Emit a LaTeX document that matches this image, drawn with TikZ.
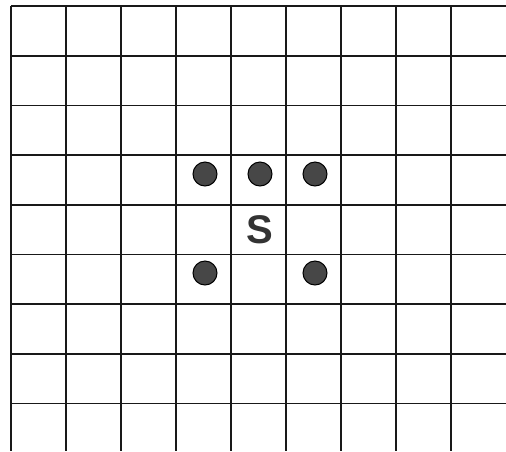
\documentclass[tikz,border=0pt]{standalone}
\usepackage{fontspec}
\setmainfont{Liberation Sans}
\begin{document}
\begin{tikzpicture}[x=1pt,y=-1pt,
  gridline/.style={line width=1.6pt,black!90},
  dot/.style={circle,draw=black,line width=1pt,fill=black!72,minimum size=24pt,inner sep=0pt},
  slabel/.style={font=\bfseries,text=black!80,inner sep=0pt,scale=4}]
\useasboundingbox (0,0) rectangle (506,451);
\foreach \i in {0,...,8} {
  \draw[gridline] (11+55*\i,6) -- (11+55*\i,451);
  \draw[gridline] (11,{6+49.7*\i}) -- (506,{6+49.7*\i});
}
\node[dot] (d1) at (205,174) {};
\node[dot] (d2) at (260,174) {};
\node[dot] (d3) at (315,174) {};
\node[dot] (d4) at (205,273) {};
\node[dot] (d5) at (315,273) {};
\node[slabel] (s) at (260,230) {S};
\end{tikzpicture}
\end{document}
